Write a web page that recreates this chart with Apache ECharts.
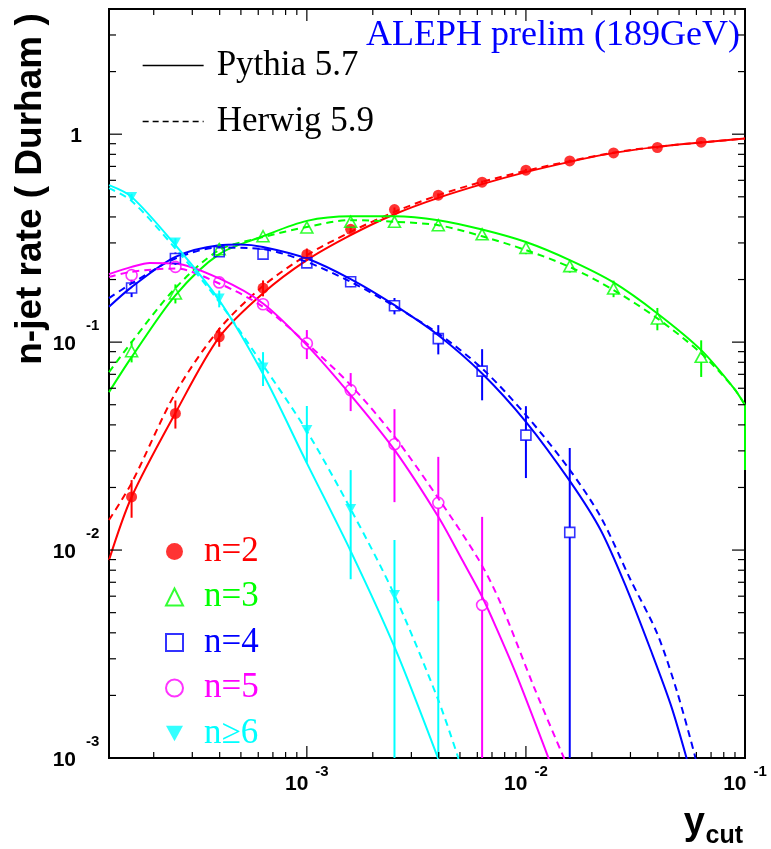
<!DOCTYPE html>
<html><head><meta charset="utf-8">
<script src="https://cdn.jsdelivr.net/npm/echarts@6/dist/echarts.min.js"></script>
<style>html,body{margin:0;padding:0;background:#fff}#main{width:771px;height:849px}</style>
</head><body><div id="main"></div>
<script>
// ---------- data ----------
const xRange = [1.25e-4, 0.1];
const yRange = [1e-3, 4];
const xMajorTicks = [1e-3, 1e-2, 1e-1];
const yMajorTicks = [1e-3, 1e-2, 1e-1, 1];
const minorFactors = [2, 3, 4, 5, 6, 7, 8, 9];

const xPoints = [1.585e-4, 2.512e-4, 3.981e-4, 6.31e-4, 1.0e-3, 1.585e-3, 2.512e-3, 3.981e-3, 6.31e-3, 1.0e-2, 1.585e-2, 2.512e-2, 3.981e-2, 6.31e-2];

const rateN2 = [0.0180, 0.0454, 0.106, 0.182, 0.264, 0.349, 0.434, 0.509, 0.588, 0.671, 0.744, 0.813, 0.863, 0.915];
const errN2  = [0.0037, 0.007, 0.011, 0.016, 0.018, 0.01, 0.01, 0.01, 0.01, 0.01, 0.01, 0.01, 0.01, 0.01];
const rateN3 = [0.0905, 0.1715, 0.280, 0.323, 0.356, 0.379, 0.379, 0.365, 0.330, 0.284, 0.232, 0.181, 0.130, 0.085];
const errN3  = [0.0106, 0.018, 0.019, 0.018, 0.016, 0.016, 0.016, 0.016, 0.019, 0.019, 0.016, 0.0165, 0.016, 0.017];
const rateN4 = [0.182, 0.2525, 0.272, 0.265, 0.2406, 0.195, 0.1495, 0.104, 0.0725, 0.0357, 0.01217];
const errN4  = [0.0174, 0.0173, 0.0125, 0.012, 0.009, 0.011, 0.0135, 0.0167, 0.02, 0.0135, 0.0188];
const rateN5 = [0.210, 0.230, 0.1937, 0.152, 0.0986, 0.0588, 0.0323, 0.01687, 0.00544];
const errN5  = [0.0145, 0.013, 0.0087, 0.0087, 0.0157, 0.0122, 0.0153, 0.0112, 0.009];
const rateN6 = [0.4995, 0.3015, 0.162, 0.0755, 0.0378, 0.01574, 0.00608, 0.0005];
const errN6  = [0.017, 0.014, 0.015, 0.014, 0.0115, 0.0085, 0.0051, 0.0052];

const pythiaN2 = [[1.25e-4,0.00895],[1.585e-4,0.0180],[2.512e-4,0.0456],[3.981e-4,0.1057],[6.31e-4,0.172],[1e-3,0.248],[1.585e-3,0.327],[2.512e-3,0.412],[3.981e-3,0.494],[6.31e-3,0.575],[1e-2,0.657],[1.585e-2,0.736],[2.512e-2,0.813],[3.981e-2,0.869],[6.31e-2,0.912],[0.1,0.953]];
const herwigN2 = [[1.25e-4,0.01394],[1.585e-4,0.0210],[2.512e-4,0.0569],[3.981e-4,0.1155],[6.31e-4,0.186],[1e-3,0.262],[1.585e-3,0.339],[2.512e-3,0.423],[3.981e-3,0.509],[6.31e-3,0.590],[1e-2,0.667],[1.585e-2,0.742],[2.512e-2,0.815],[3.981e-2,0.871],[6.31e-2,0.912],[0.1,0.953]];
const pythiaN3 = [[1.25e-4,0.0575],[1.585e-4,0.0847],[2.512e-4,0.168],[3.981e-4,0.265],[6.31e-4,0.323],[1e-3,0.383],[1.585e-3,0.403],[2.512e-3,0.403],[3.981e-3,0.386],[6.31e-3,0.348],[1e-2,0.303],[1.585e-2,0.248],[2.512e-2,0.1937],[3.981e-2,0.1374],[6.31e-2,0.0915],[0.0889,0.0601],[0.1,0.0498]];
const pythiaN3Edge = [[0.1,0.0498],[0.1,0.0243]];
const herwigN3 = [[1.25e-4,0.0717],[1.585e-4,0.100],[2.512e-4,0.182],[3.981e-4,0.277],[6.31e-4,0.320],[1e-3,0.358],[1.585e-3,0.386],[2.512e-3,0.379],[3.981e-3,0.365],[6.31e-3,0.323],[1e-2,0.277],[1.585e-2,0.230],[2.512e-2,0.178],[3.981e-2,0.130],[6.31e-2,0.0883],[0.0889,0.0601],[0.1,0.0498]];
const pythiaN4 = [[1.25e-4,0.1478],[1.585e-4,0.1838],[2.512e-4,0.257],[3.981e-4,0.2926],[4.955e-4,0.295],[6.31e-4,0.287],[1e-3,0.2525],[1.585e-3,0.201],[2.512e-3,0.1507],[3.981e-3,0.108],[6.31e-3,0.0707],[1e-2,0.0414],[1.585e-2,0.0215],[2.193e-2,0.01248],[2.904e-2,0.00642],[3.715e-2,0.00330],[4.585e-2,0.00180],[5.424e-2,0.00099]];
const herwigN4 = [[1.25e-4,0.1628],[1.585e-4,0.1914],[2.512e-4,0.2525],[3.981e-4,0.285],[6.31e-4,0.280],[1e-3,0.243],[1.585e-3,0.195],[2.512e-3,0.149],[3.981e-3,0.110],[6.31e-3,0.0747],[1e-2,0.0446],[1.585e-2,0.0243],[2.193e-2,0.01445],[3.006e-2,0.00718],[3.98e-2,0.00395],[4.92e-2,0.00205],[5.96e-2,0.00099]];
const pythiaN5 = [[1.25e-4,0.2123],[1.585e-4,0.230],[1.92e-4,0.2405],[2.512e-4,0.239],[3.981e-4,0.2024],[6.31e-4,0.1535],[1e-3,0.0967],[1.585e-3,0.0556],[2.512e-3,0.0303],[3.981e-3,0.01445],[5.12e-3,0.00895],[6.31e-3,0.00596],[7.4e-3,0.00412],[9.12e-3,0.00246],[1.274e-2,0.000986]];
const herwigN5 = [[1.25e-4,0.206],[1.585e-4,0.218],[2.512e-4,0.226],[3.981e-4,0.1914],[6.31e-4,0.1478],[1e-3,0.0986],[1.585e-3,0.0621],[2.512e-3,0.0351],[3.981e-3,0.01774],[6.1e-3,0.00895],[7.66e-3,0.00556],[1.087e-2,0.0022],[1.5e-2,0.000986]];
const pythiaN6 = [[1.25e-4,0.5686],[1.585e-4,0.4995],[2.512e-4,0.2926],[3.981e-4,0.159],[6.31e-4,0.0702],[1e-3,0.0262],[1.585e-3,0.00989],[2.512e-3,0.00342],[3.981e-3,0.00099]];
const herwigN6 = [[1.25e-4,0.550],[1.585e-4,0.4778],[2.512e-4,0.282],[3.981e-4,0.156],[6.31e-4,0.0775],[1e-3,0.0373],[1.585e-3,0.01574],[2.512e-3,0.00608],[3.981e-3,0.0019],[4.93e-3,0.00099]];

// ---------- styling ----------
const C = { n2: '#ff0000', n3: '#00ff00', n4: '#0000ff', n5: '#ff00ff', n6: '#00ffff' };
const SANS = 'Liberation Sans';
const SERIF = 'Liberation Serif';
const DOWN_TRI = 'path://M0,0L10,0L5,9Z';

const chart = echarts.init(document.getElementById('main'), null, { renderer: 'canvas' });

function isPow10(v) {
  const l = Math.log10(v);
  return Math.abs(l - Math.round(l)) < 1e-6;
}
function expLabel(v) {
  if (!isPow10(v)) return '';
  const e = Math.round(Math.log10(v));
  if (e === 0) return '{b|1}';
  return '{b|10}{s|' + e + '}';
}

function pointsOf(rates) { return rates.map((r, i) => [xPoints[i], r]); }
function errOf(rates, errs) { return rates.map((r, i) => [xPoints[i], r, errs[i]]); }

function errRender(color, gap) {
  return function (params, api) {
    const cs = params.coordSys;
    const bottom = cs.y + cs.height;
    const x = api.value(0), y = api.value(1), e = api.value(2);
    const c = api.coord([x, y]);
    const hi = api.coord([x, y + e])[1];
    const lo = (y - e > 0) ? api.coord([x, y - e])[1] : bottom + 100;
    const segs = gap > 0 ? [[hi, c[1] - gap], [c[1] + gap, lo]] : [[hi, lo]];
    const children = segs.filter(s => s[1] > s[0]).map(s => ({
      type: 'line', shape: { x1: c[0], y1: s[0], x2: c[0], y2: s[1] },
      style: { stroke: color, lineWidth: 2 }
    }));
    return { type: 'group', children };
  };
}

function tickRender(params, api) {
  const cs = params.coordSys;
  const L = cs.x, R = cs.x + cs.width, T = cs.y, B = cs.y + cs.height;
  const ch = [];
  const st = { stroke: '#000', lineWidth: 1.2 };
  const seg = (x1, y1, x2, y2) => ch.push({ type: 'line', shape: { x1, y1, x2, y2 }, style: st });
  const inX = v => v >= xRange[0] * 0.9999 && v <= xRange[1] * 1.0001;
  const inY = v => v >= yRange[0] * 0.9999 && v <= yRange[1] * 1.0001;
  const xt = (v, len) => { const p = api.coord([v, yRange[0]])[0]; seg(p, B, p, B - len); seg(p, T, p, T + len); };
  const yt = (v, len) => { const p = api.coord([xRange[0], v])[1]; seg(L, p, L + len, p); seg(R, p, R - len, p); };
  const xDecades = [1e-4].concat(xMajorTicks);
  const yDecades = yMajorTicks;
  xMajorTicks.forEach(v => { if (inX(v)) xt(v, 12); });
  xDecades.forEach(d => minorFactors.forEach(k => { const v = d * k; if (inX(v)) xt(v, 6); }));
  yMajorTicks.forEach(v => { if (inY(v)) yt(v, 13); });
  yDecades.forEach(d => minorFactors.forEach(k => { const v = d * k; if (inY(v)) yt(v, 7); }));
  return { type: 'group', children: ch };
}

function curve(name, data, color, dashed) {
  return {
    type: 'line', name, data, symbol: 'none', smooth: 0.3, clip: true, z: 2,
    lineStyle: { color, width: 2, type: dashed ? [7, 5] : 'solid' },
    itemStyle: { color }, emphasis: { disabled: true }, silent: true
  };
}
function markers(name, rates, symbol, size, color, filled, rotate) {
  return {
    type: 'scatter', name, data: pointsOf(rates), symbol, symbolSize: size, symbolRotate: rotate || 0,
    clip: true, z: 5, silent: true,
    itemStyle: filled ? { color, borderWidth: 0 } : { color: 'rgba(0,0,0,0)', borderColor: color, borderWidth: 1.6 }
  };
}
function errBars(rates, errs, color, gap) {
  return {
    type: 'custom', data: errOf(rates, errs), renderItem: errRender(color, gap),
    encode: { x: 0, y: 1 }, clip: true, z: 4, silent: true
  };
}

const xRich = {
  b: { fontFamily: SANS, fontWeight: 'bold', fontSize: 21, lineHeight: 21, padding: [4, 0, 0, 0], color: '#000', verticalAlign: 'middle' },
  s: { fontFamily: SANS, fontWeight: 'bold', fontSize: 15, lineHeight: 15, padding: [0, 0, 22, 7], color: '#000', verticalAlign: 'middle' }
};
const yRich = {
  b: { fontFamily: SANS, fontWeight: 'bold', fontSize: 21, lineHeight: 21, padding: [5, 0, 0, 0], color: '#000', verticalAlign: 'middle' },
  s: { fontFamily: SANS, fontWeight: 'bold', fontSize: 15, lineHeight: 15, padding: [0, 0, 33, 10], color: '#000', verticalAlign: 'middle' }
};

const option = {
  animation: false,
  backgroundColor: '#fff',
  grid: { left: 109, top: 9, width: 636, height: 749, show: true, borderColor: '#000', borderWidth: 2, backgroundColor: 'transparent' },
  xAxis: {
    type: 'log', logBase: 10, min: xRange[0], max: xRange[1],
    axisLine: { show: false }, axisTick: { show: false }, splitLine: { show: false },
    axisLabel: { formatter: expLabel, rich: xRich, margin: 14, align: 'center', showMinLabel: true, showMaxLabel: true, hideOverlap: false }
  },
  yAxis: {
    type: 'log', logBase: 10, min: yRange[0], max: yRange[1],
    axisLine: { show: false }, axisTick: { show: false }, splitLine: { show: false },
    axisLabel: { formatter: expLabel, rich: yRich, margin: 33, align: 'center', verticalAlign: 'middle', showMinLabel: true, showMaxLabel: true, hideOverlap: false }
  },
  legend: [
    {
      orient: 'vertical', left: 142, top: 48, padding: 0, itemWidth: 61, itemHeight: 14, itemGap: 21, selectedMode: false,
      textStyle: { fontFamily: SERIF, fontSize: 35, lineHeight: 34, color: '#000', padding: [0, 0, 0, 8] },
      data: [
        { name: 'Pythia 5.7', lineStyle: { color: '#000', width: 1.3, type: 'solid' }, itemStyle: { color: 'rgba(0,0,0,0)', borderWidth: 0 } },
        { name: 'Herwig 5.9', lineStyle: { color: '#000', width: 1.3, type: [6, 4] }, itemStyle: { color: 'rgba(0,0,0,0)', borderWidth: 0 } }
      ]
    },
    {
      orient: 'vertical', left: 165, top: 534, padding: 0, itemWidth: 17, itemHeight: 17, itemGap: 10.5, selectedMode: false,
      textStyle: { fontFamily: SERIF, fontSize: 35, lineHeight: 34, padding: [0, 0, 0, 16] },
      data: [
        { name: 'n=2', icon: 'circle', itemStyle: { color: C.n2, borderWidth: 0 }, textStyle: { color: C.n2 } },
        { name: 'n=3', icon: 'triangle', itemStyle: { color: 'rgba(0,0,0,0)', borderColor: C.n3, borderWidth: 2 }, textStyle: { color: C.n3 } },
        { name: 'n=4', icon: 'rect', itemStyle: { color: 'rgba(0,0,0,0)', borderColor: C.n4, borderWidth: 2 }, textStyle: { color: C.n4 } },
        { name: 'n=5', icon: 'circle', itemStyle: { color: 'rgba(0,0,0,0)', borderColor: C.n5, borderWidth: 2 }, textStyle: { color: C.n5 } },
        { name: 'n\u22656', icon: DOWN_TRI, itemStyle: { color: C.n6, borderWidth: 0 }, textStyle: { color: C.n6 } }
      ]
    }
  ],
  graphic: [
    { type: 'text', x: 30.5, y: 189, rotation: Math.PI / 2, silent: true,
      style: { text: 'n-jet rate ( Durham )', font: 'bold 37px "Liberation Sans"', fill: '#000', align: 'center', verticalAlign: 'middle' } },
    { type: 'text', x: 705, y: 823.5, silent: true,
      style: { text: 'y', font: 'bold 38px "Liberation Sans"', fill: '#000', align: 'right', verticalAlign: 'middle' } },
    { type: 'text', x: 743, y: 836.3, silent: true,
      style: { text: 'cut', font: 'bold 25px "Liberation Sans"', fill: '#000', align: 'right', verticalAlign: 'middle' } },
    { type: 'text', x: 740, y: 36, silent: true,
      style: { text: 'ALEPH prelim (189GeV)', font: '36px "Liberation Serif"', fill: '#0000ff', align: 'right', verticalAlign: 'middle' } }
  ],
  series: [
    { type: 'custom', data: [[xRange[0], yRange[0]]], renderItem: tickRender, encode: { x: 0, y: 1 }, z: 10, silent: true },

    curve('Pythia 5.7', pythiaN2, C.n2, false),
    curve('Herwig 5.9', herwigN2, C.n2, true),
    curve('Pythia 5.7', pythiaN3, C.n3, false),
    { type: 'line', name: 'Pythia 5.7', data: pythiaN3Edge, symbol: 'none', clip: false, z: 2, lineStyle: { color: C.n3, width: 2 }, silent: true },
    curve('Herwig 5.9', herwigN3, C.n3, true),
    curve('Pythia 5.7', pythiaN4, C.n4, false),
    curve('Herwig 5.9', herwigN4, C.n4, true),
    curve('Pythia 5.7', pythiaN5, C.n5, false),
    curve('Herwig 5.9', herwigN5, C.n5, true),
    curve('Pythia 5.7', pythiaN6, C.n6, false),
    curve('Herwig 5.9', herwigN6, C.n6, true),

    errBars(rateN2, errN2, C.n2, 0),
    errBars(rateN3, errN3, C.n3, 5.5),
    errBars(rateN4, errN4, C.n4, 5),
    errBars(rateN5, errN5, C.n5, 5.5),
    errBars(rateN6, errN6, C.n6, 0),

    markers('n=2', rateN2, 'circle', 11, C.n2, true),
    markers('n=3', rateN3, 'triangle', [12, 11], C.n3, false),
    markers('n=4', rateN4, 'rect', 10, C.n4, false),
    markers('n=5', rateN5, 'circle', 11, C.n5, false),
    markers('n\u22656', rateN6, DOWN_TRI, [11, 10], C.n6, true)
  ]
};
chart.setOption(option);
</script>
</body></html>
